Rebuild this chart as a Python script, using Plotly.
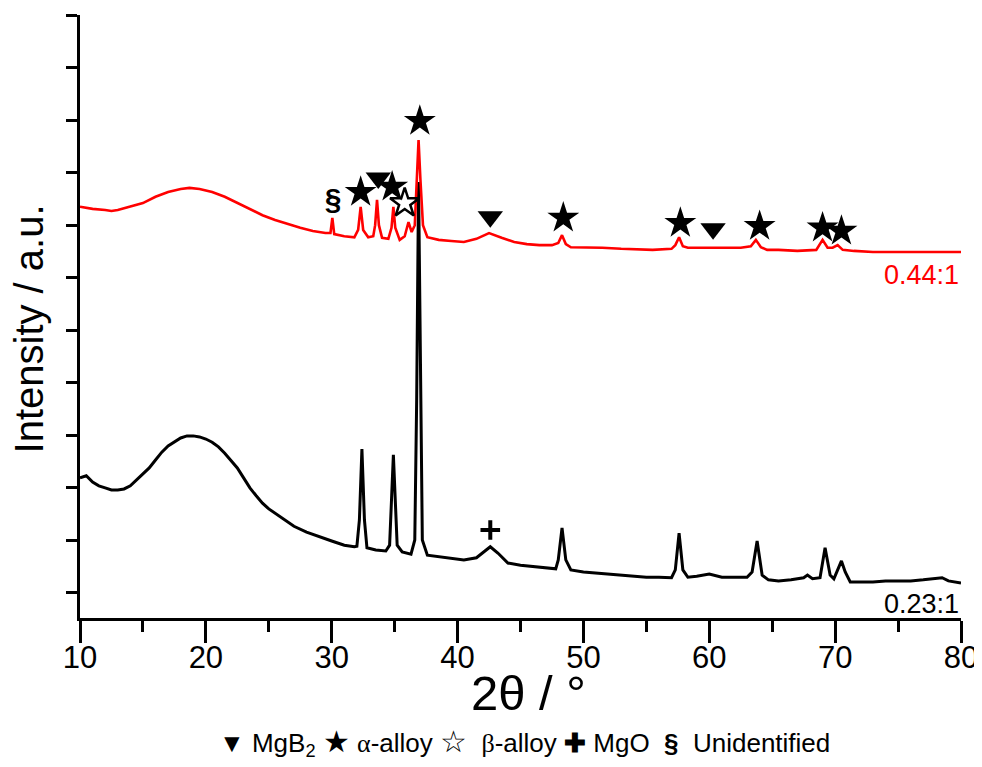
import plotly.graph_objects as go

# ---- data (2theta in degrees, intensity in arbitrary units) ----
two_theta_023 = [10.0, 10.5, 11.0, 11.5, 12.0, 12.5, 13.0, 13.5, 14.0, 14.5, 15.0, 15.5, 16.0, 16.5,
                 17.0, 17.5, 18.0, 18.5, 19.0, 19.5, 20.0, 20.5, 21.0, 21.5, 22.0, 22.5, 23.0, 23.5,
                 24.0, 24.5, 25.0, 26.0, 27.0, 28.0, 29.0, 30.0, 31.0, 31.8, 32.0, 32.2, 32.4, 32.6,
                 32.8, 33.5, 34.3, 34.6, 34.75, 34.9, 35.05, 35.2, 35.6, 36.3, 36.6, 36.75, 36.9,
                 37.05, 37.2, 37.6, 38.5, 39.5, 40.5, 41.5, 42.0, 42.6, 43.2, 44.0, 45.0, 46.0, 47.0,
                 47.8, 48.0, 48.3, 48.6, 49.0, 50.0, 51.0, 52.0, 53.0, 54.0, 55.0, 56.0, 57.0, 57.3,
                 57.6, 57.9, 58.3, 59.0, 60.0, 61.0, 62.0, 63.0, 63.4, 63.8, 64.2, 64.7, 65.5, 66.5,
                 67.5, 67.8, 68.2, 68.8, 69.2, 69.6, 69.9, 70.2, 70.5, 70.8, 71.2, 72.0, 73.0, 74.0,
                 75.0, 76.0, 77.0, 78.0, 78.5, 79.0, 80.0]
intensity_023 = [2.19, 2.23, 2.11, 2.04, 2.00, 1.96, 1.96, 1.98, 2.04, 2.15, 2.26, 2.38, 2.53, 2.68,
                 2.80, 2.87, 2.95, 2.99, 2.99, 2.97, 2.93, 2.87, 2.78, 2.66, 2.53, 2.38, 2.19, 2.00,
                 1.85, 1.71, 1.60, 1.43, 1.27, 1.16, 1.07, 0.99, 0.91, 0.88, 0.89, 1.39, 2.74, 1.39,
                 0.86, 0.82, 0.80, 0.91, 1.77, 2.63, 1.77, 0.91, 0.78, 0.74, 1.01, 3.67, 7.82,
                 3.67, 1.01, 0.72, 0.69, 0.65, 0.63, 0.67, 0.76, 0.88, 0.76, 0.57, 0.53, 0.51, 0.48,
                 0.46, 0.63, 1.24, 0.63, 0.44, 0.40, 0.38, 0.36, 0.34, 0.32, 0.30, 0.30, 0.29, 0.44,
                 1.14, 0.44, 0.30, 0.32, 0.36, 0.30, 0.30, 0.30, 0.40, 0.99, 0.34, 0.25, 0.23, 0.25,
                 0.29, 0.34, 0.27, 0.29, 0.86, 0.34, 0.27, 0.44, 0.61, 0.40, 0.21, 0.21, 0.21, 0.23,
                 0.23, 0.23, 0.25, 0.27, 0.29, 0.23, 0.19]

two_theta_044 = [10.0, 11.0, 12.0, 12.5, 13.0, 14.0, 15.0, 16.0, 17.0, 18.0, 18.7, 19.5, 20.5, 21.5,
                 22.5, 23.5, 24.5, 25.5, 26.5, 27.5, 28.5, 29.5, 29.9, 30.05, 30.2, 31.0, 31.8, 32.1,
                 32.3, 32.5, 32.9, 33.3, 33.45, 33.6, 33.75, 34.0, 34.5, 34.75, 34.9, 35.05, 35.4,
                 35.8, 36.1, 36.35, 36.6, 36.75, 36.9, 37.05, 37.25, 37.6, 38.5, 39.5, 40.5, 41.5,
                 42.5, 43.5, 44.5, 45.5, 46.5, 47.5, 48.0, 48.3, 48.6, 49.0, 50.0, 51.5, 53.0, 54.5,
                 55.5, 57.0, 57.3, 57.6, 57.9, 58.3, 59.5, 60.3, 61.5, 62.5, 63.3, 63.7, 64.1, 64.6,
                 65.5, 67.0, 68.5, 69.0, 69.4, 69.8, 70.2, 70.6, 71.5, 73.0, 75.0, 77.0, 79.0, 80.0]
intensity_044 = [7.35, 7.31, 7.29, 7.27, 7.29, 7.35, 7.42, 7.54, 7.63, 7.69, 7.71, 7.69, 7.63, 7.54,
                 7.42, 7.31, 7.19, 7.10, 7.02, 6.95, 6.89, 6.85, 6.85, 7.14, 6.83, 6.79, 6.77, 6.91,
                 7.35, 6.91, 6.77, 6.79, 7.00, 7.48, 7.00, 6.76, 6.74, 6.95, 7.35, 6.95, 6.72,
                 6.79, 7.06, 6.87, 7.00, 7.86, 8.62, 7.86, 7.00, 6.77, 6.72, 6.70, 6.68, 6.74,
                 6.85, 6.76, 6.68, 6.64, 6.62, 6.62, 6.66, 6.81, 6.64, 6.58, 6.58, 6.57, 6.55, 6.53,
                 6.53, 6.55, 6.62, 6.77, 6.60, 6.57, 6.57, 6.58, 6.57, 6.57, 6.60, 6.72, 6.58, 6.53,
                 6.53, 6.51, 6.53, 6.72, 6.57, 6.57, 6.62, 6.53, 6.51, 6.49, 6.49, 6.49, 6.49, 6.49]

# phase markers: position (2theta) and height (a.u.)
mgb2_pos = [33.7, 42.6, 60.3]
mgb2_h = [7.90, 7.16, 6.93]
alpha_pos = [32.3, 34.8, 37.0, 48.4, 57.7, 64.0, 69.0, 70.5]
alpha_h = [7.63, 7.73, 8.98, 7.14, 7.04, 6.98, 6.95, 6.89]
beta_pos = [35.8]
beta_h = [7.42]
mgo_pos = [42.6]
mgo_h = [1.20]
unid_pos = [30.1]
unid_h = [7.45]

y_ticks = list(range(0, 12))
x_ticks = [10, 20, 30, 40, 50, 60, 70, 80]

FONT = "Liberation Sans, Arial, sans-serif"
SERIF = "Liberation Serif, Times New Roman, serif"

fig = go.Figure()
fig.add_trace(go.Scatter(x=two_theta_023, y=intensity_023, mode="lines",
                         line=dict(color="black", width=3), showlegend=False))
fig.add_trace(go.Scatter(x=two_theta_044, y=intensity_044, mode="lines",
                         line=dict(color="#ff0000", width=2.6), showlegend=False))

fig.add_trace(go.Scatter(x=mgb2_pos, y=mgb2_h, mode="markers", showlegend=False,
                         marker=dict(symbol="triangle-down", size=22, color="black")))
fig.add_trace(go.Scatter(x=alpha_pos, y=alpha_h, mode="markers", showlegend=False,
                         marker=dict(symbol="star", size=24, color="black")))
fig.add_trace(go.Scatter(x=beta_pos, y=beta_h, mode="markers", showlegend=False,
                         marker=dict(symbol="star-open", size=22, color="black",
                                     line=dict(width=2.5, color="black"))))
fig.add_trace(go.Scatter(x=mgo_pos, y=mgo_h, mode="markers", showlegend=False,
                         marker=dict(symbol="cross-thin", size=14, color="black",
                                     line=dict(width=4, color="black"))))
fig.add_trace(go.Scatter(x=unid_pos, y=unid_h, mode="text", text=["<b>§</b>"], showlegend=False,
                         textfont=dict(family=FONT, size=30, color="black")))

# the page body adds an 8 px offset, so the figure is 8 px smaller on each leading edge
fig.update_layout(
    width=974, height=759,
    margin=dict(l=72, r=21, t=7, b=149, autoexpand=False),
    plot_bgcolor="white", paper_bgcolor="white",
    font=dict(family=FONT, color="black"),
    xaxis=dict(range=[10, 80], tickvals=x_ticks, ticks="outside", ticklen=22, tickwidth=3,
               tickcolor="black", showline=True, linewidth=3, linecolor="black",
               showgrid=False, zeroline=False, tickfont=dict(size=31), automargin=False,
               ticklabelstandoff=-12,
               minor=dict(dtick=5, tick0=5, ticks="outside", ticklen=11, tickwidth=3,
                          tickcolor="black", showgrid=False)),
    yaxis=dict(range=[-0.476, 11], tickvals=y_ticks, ticks="outside", ticklen=11, tickwidth=3,
               tickcolor="black", showline=True, linewidth=3, linecolor="black",
               showgrid=False, zeroline=False, showticklabels=False, automargin=False),
)

fig.add_annotation(text="Intensity / a.u.", xref="paper", yref="paper",
                   x=-0.058, y=0.48, xanchor="center", yanchor="middle", textangle=-90,
                   showarrow=False, font=dict(size=40, family=FONT, color="black"))
fig.add_annotation(text="2θ / °", xref="paper", yref="paper",
                   x=0.509, y=-0.125, xanchor="center", yanchor="middle",
                   showarrow=False, font=dict(size=49, family=FONT, color="black"))
fig.add_annotation(text="0.44:1", xref="paper", yref="y", x=1.0, y=6.05,
                   xanchor="right", yanchor="middle", showarrow=False,
                   font=dict(size=27, family=FONT, color="#ff0000"))
fig.add_annotation(text="0.23:1", xref="paper", yref="y", x=1.0, y=-0.2,
                   xanchor="right", yanchor="middle", showarrow=False,
                   font=dict(size=27, family=FONT, color="black"))
fig.add_annotation(
    text=("▼ MgB<sub>2</sub> <span style='font-size:30px'>★</span> "
          "<span style='font-family:Liberation Serif'>α</span>-alloy "
          "<span style='font-size:30px'>☆</span>  "
          "<span style='font-family:Liberation Serif'>β</span>-alloy "
          "<b>✚</b> MgO  <b>§</b>  Unidentified"),
    xref="paper", yref="paper", x=0.5045, y=-0.208, xanchor="center", yanchor="middle",
    showarrow=False, font=dict(size=26, family=FONT, color="black"))

fig.write_html("out.html")
